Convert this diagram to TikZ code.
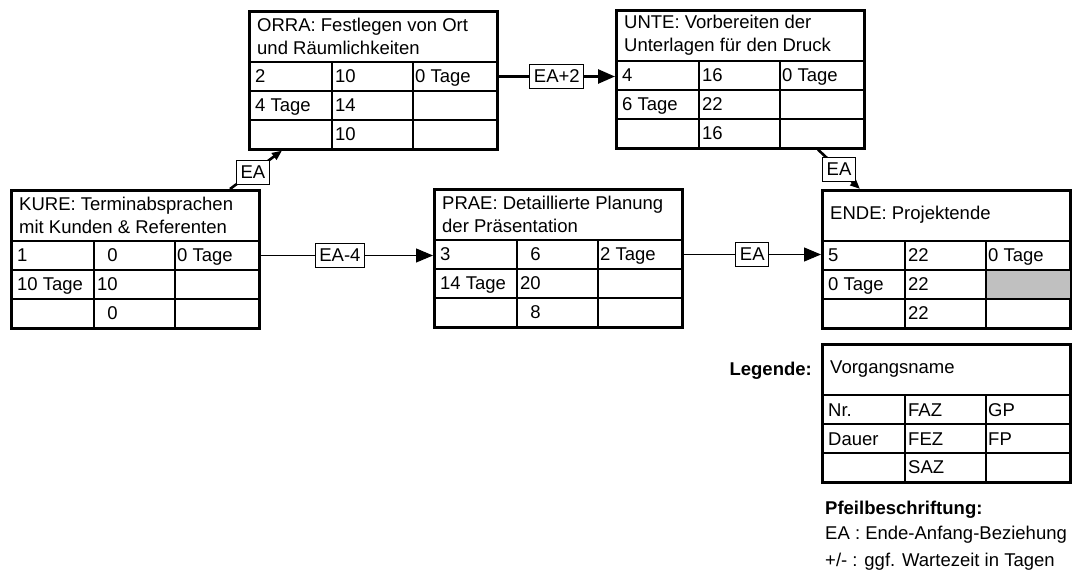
\documentclass[tikz,border=0pt]{standalone}
\usepackage{fontspec}
\setmainfont{Liberation Sans}
\usetikzlibrary{arrows.meta}

\definecolor{puffergrau}{RGB}{192,192,192}

\tikzset{
  kasten/.style={draw, line width=2.6pt, minimum width=248pt, minimum height=138pt,
    anchor=north west, inner sep=0pt},
  raster/.style={line width=1.1pt},
  titel/.style={anchor=west, align=left, inner sep=0pt},
  zelle/.style={anchor=west, inner sep=0pt, text height=13pt, text depth=0pt},
  verbindung/.style={line width=1.2pt, -{Triangle[length=17pt,width=14pt]}},
  kritisch/.style={verbindung, line width=2.6pt},
  kritischklein/.style={line width=2.6pt, -{Triangle[length=10pt,width=8pt]}},
  beziehung/.style={draw, line width=1pt, fill=white, inner xsep=4pt, inner ysep=5.5pt,
    text height=13pt, text depth=0pt}
}

% Vorgangsknoten: Name, Position (oben links), Titel
\newcommand{\vorgang}[3]{%
  \node[kasten] (#1) at (#2) {};
  \draw[raster] ([yshift=-52pt]#1.north west) -- ([yshift=-52pt]#1.north east);
  \draw[raster] ([yshift=-81pt]#1.north west) -- ([yshift=-81pt]#1.north east);
  \draw[raster] ([yshift=-110pt]#1.north west) -- ([yshift=-110pt]#1.north east);
  \draw[raster] ([xshift=84pt,yshift=-52pt]#1.north west) -- ([xshift=84pt]#1.south west);
  \draw[raster] ([xshift=165pt,yshift=-52pt]#1.north west) -- ([xshift=165pt]#1.south west);
  \node[titel] (#1-titel) at ([xshift=9pt,yshift=-26pt]#1.north west) {#3};
  \coordinate (#1-z1) at ([yshift=-66.5pt]#1.north west);
}

% Zellen: Name, Nr., FAZ, GP, Dauer, FEZ, FP, SAZ
\newcommand{\zellen}[8]{%
  \node[zelle] (#1-nr) at ([xshift=7pt,yshift=-66.5pt]#1.north west) {#2};
  \node[zelle] (#1-faz) at ([xshift=87pt,yshift=-66.5pt]#1.north west) {#3};
  \node[zelle] (#1-gp) at ([xshift=167pt,yshift=-66.5pt]#1.north west) {#4};
  \node[zelle] (#1-dauer) at ([xshift=7pt,yshift=-95.5pt]#1.north west) {#5};
  \node[zelle] (#1-fez) at ([xshift=87pt,yshift=-95.5pt]#1.north west) {#6};
  \node[zelle] (#1-fp) at ([xshift=167pt,yshift=-95.5pt]#1.north west) {#7};
  \node[zelle] (#1-saz) at ([xshift=87pt,yshift=-124pt]#1.north west) {#8};
}

\begin{document}
\begin{tikzpicture}[x=1pt, y=1pt, font=\fontsize{18.5pt}{23pt}\selectfont]
  \useasboundingbox (0,0) rectangle (1076,576);

  \vorgang{kure}{10,387}{KURE: Terminabsprachen\\mit Kunden \& Referenten}
  \zellen{kure}{1}{\phantom{0}0}{0 Tage}{10 Tage}{10}{}{\phantom{0}0}

  \vorgang{orra}{248,566}{ORRA: Festlegen von Ort\\und Räumlichkeiten}
  \zellen{orra}{2}{10}{0 Tage}{4 Tage}{14}{}{10}

  \vorgang{unte}{615,567}{UNTE: Vorbereiten der\\Unterlagen für den Druck}
  \zellen{unte}{4}{16}{0 Tage}{6 Tage}{22}{}{16}

  \vorgang{prae}{433,388}{PRAE: Detaillierte Planung\\der Präsentation}
  \zellen{prae}{3}{\phantom{0}6}{2 Tage}{14 Tage}{20}{}{\phantom{0}8}

  \vorgang{ende}{821,387}{ENDE: Projektende}
  \fill[puffergrau] ([xshift=165.6pt,yshift=-81.6pt]ende.north west)
    rectangle ([xshift=-1.3pt,yshift=-109.4pt]ende.north east);
  \zellen{ende}{5}{22}{0 Tage}{0 Tage}{22}{}{22}

  % Anordnungsbeziehungen
  \draw[verbindung] (kure.east |- kure-z1) -- (prae.west |- kure-z1)
    node[beziehung, pos=0.46] (kure-prae) {EA-4};
  \draw[verbindung] (prae.east |- prae-z1) -- (ende.west |- prae-z1)
    node[beziehung, midway] (prae-ende) {EA};
  \draw[kritisch] (orra.east |- orra-z1) -- (unte.west |- orra-z1)
    node[beziehung, midway] (orra-unte) {EA+2};
  \draw[kritischklein] ([xshift=220pt]kure.north west) -- ([xshift=34pt]orra.south west)
    node[beziehung, pos=0.44] (kure-orra) {EA};
  \draw[kritischklein] ([xshift=203pt]unte.south west) -- ([xshift=39pt]ende.north west)
    node[beziehung, pos=0.5] (unte-ende) {EA};

  % Legende
  \vorgang{legende}{821,233}{Vorgangsname}
  \zellen{legende}{Nr.}{FAZ}{GP}{Dauer}{FEZ}{FP}{SAZ}
  \node[zelle, anchor=east] (legende-text)
    at ([xshift=-9pt,yshift=-26pt]legende.north west) {\bfseries Legende:};
  \node[zelle] (pfeil-titel) at (825,68) {\bfseries Pfeilbeschriftung:};
  \node[zelle] (pfeil-ea) at (825,43) {EA : Ende-Anfang-Beziehung};
  \node[zelle] (pfeil-pm) at (825,16) {+/- : ggf. Wartezeit in Tagen};
\end{tikzpicture}
\end{document}
